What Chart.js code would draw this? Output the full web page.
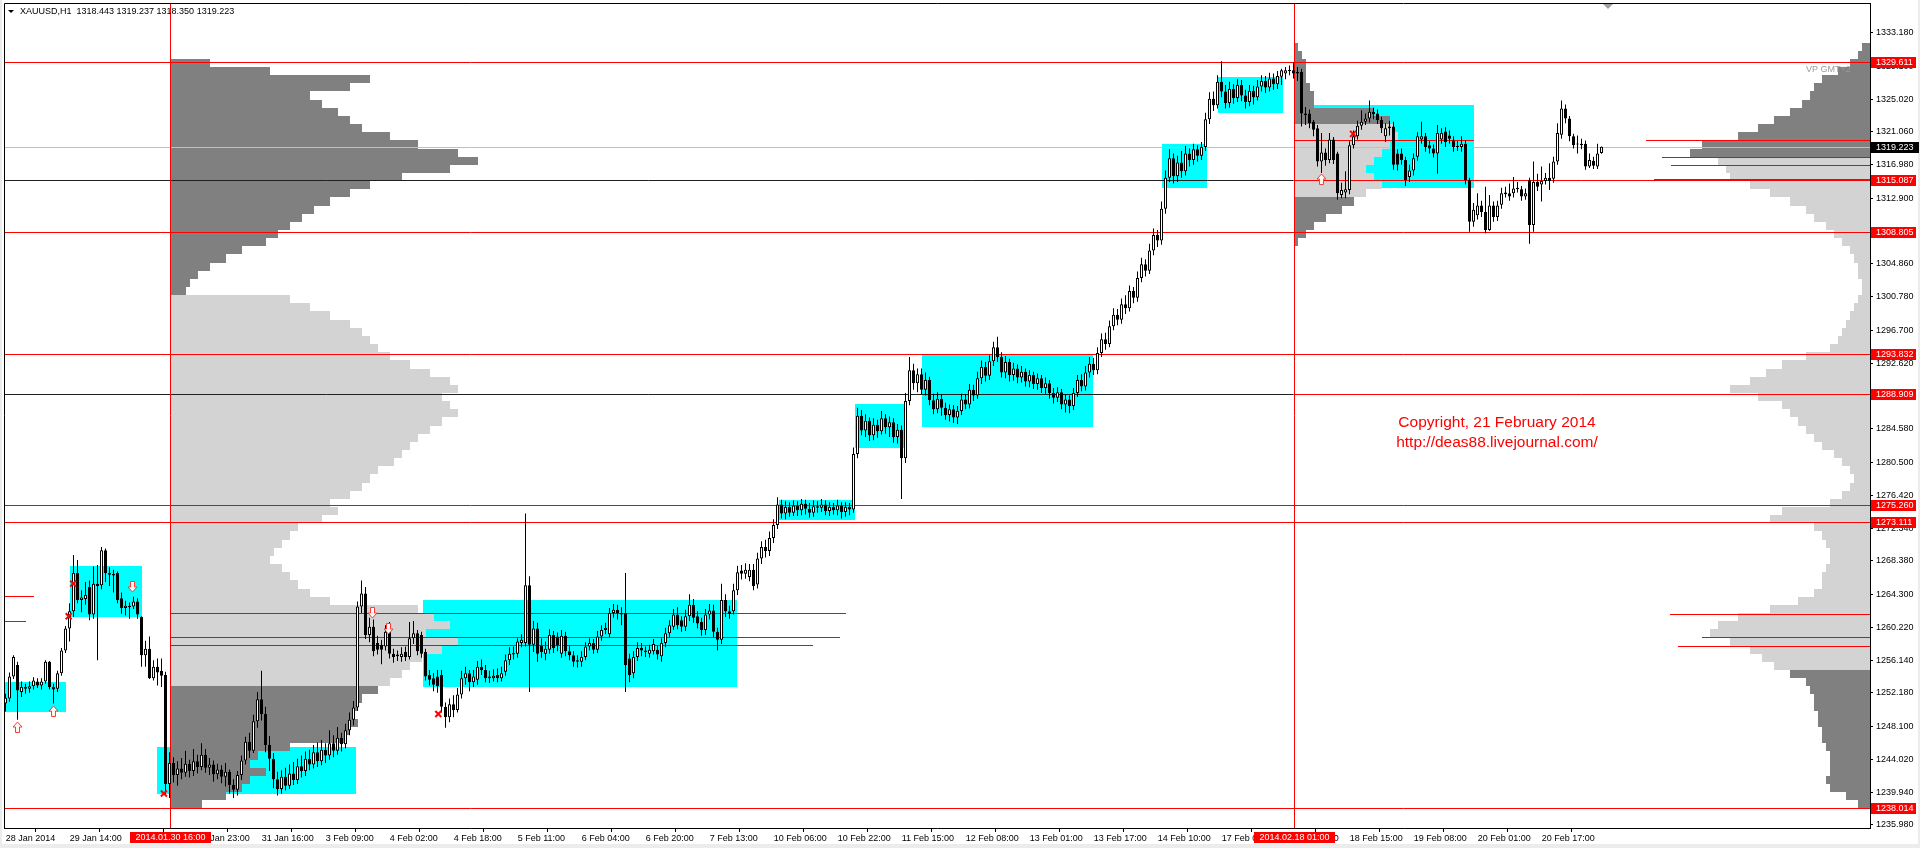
<!DOCTYPE html>
<html>
<head>
<meta charset="utf-8">
<title>XAUUSD,H1</title>
<script src="https://cdn.jsdelivr.net/npm/chart.js@4.4.1/dist/chart.umd.min.js"></script>
<style>
  html, body { margin: 0; padding: 0; background: #fff; }
  canvas { display: block; }
</style>
</head>
<body>
<canvas id="priceChart" width="1920" height="848"></canvas>
<script>
// ---- data (hourly bars, index 0 = 28 Jan 2014) ----
const symbolName = "XAUUSD,H1";

const open = [
  1250.9,1251.5,1254.2,1255.6,1252.3,1252.7,1252.7,1253.0,1253.6,1253.1,
  1253.6,1256.0,1252.9,1252.7,1254.6,1257.4,1260.1,1262.2,1266.9,1263.6,
  1263.7,1265.2,1261.8,1265.6,1265.4,1269.7,1266.9,1266.8,1266.9,1263.8,
  1262.6,1262.7,1262.8,1263.4,1261.5,1256.8,1257.6,1254.0,1255.4,1254.9,
  1254.4,1241.0,1243.6,1242.1,1242.9,1242.4,1243.5,1242.6,1243.8,1243.1,
  1244.6,1243.0,1243.4,1242.2,1242.8,1241.9,1242.5,1240.9,1240.3,1242.1,
  1243.9,1246.2,1245.1,1248.7,1251.4,1249.6,1245.8,1244.1,1241.6,1240.4,
  1241.9,1240.8,1242.3,1241.5,1243.2,1242.6,1244.1,1243.4,1244.9,1243.8,
  1245.2,1244.5,1246.0,1245.1,1246.7,1245.9,1247.6,1248.9,1250.4,1262.8,
  1264.4,1259.3,1260.3,1258.3,1258.1,1257.9,1259.7,1257.0,1256.9,1256.6,
  1257.2,1256.6,1258.9,1259.5,1259.3,1257.2,1254.4,1254.0,1254.2,1254.4,
  1250.5,1249.2,1250.8,1250.1,1252.0,1254.0,1254.6,1253.5,1253.8,1255.4,
  1255.0,1254.0,1254.0,1254.4,1254.0,1254.8,1256.2,1256.9,1257.0,1258.3,
  1258.3,1265.4,1258.1,1260.1,1258.0,1257.0,1257.5,1259.3,1259.1,1257.0,
  1259.2,1257.3,1256.8,1256.0,1256.0,1256.6,1257.9,1258.3,1257.5,1259.1,
  1259.9,1259.4,1262.0,1262.4,1262.0,1262.0,1256.4,1254.6,1256.6,1257.7,
  1257.4,1257.0,1257.3,1257.5,1256.7,1258.3,1259.5,1260.3,1261.8,1261.1,
  1260.3,1261.6,1263.0,1261.6,1260.9,1259.9,1261.8,1262.3,1259.7,1258.7,
  1263.6,1262.2,1262.2,1264.8,1267.2,1266.8,1266.4,1267.3,1265.5,1268.7,
  1270.1,1269.6,1271.2,1272.8,1275.3,1274.2,1275.0,1274.3,1275.2,1274.6,
  1275.4,1274.8,1274.3,1275.1,1274.9,1275.3,1274.5,1275.0,1274.6,1275.2,
  1274.4,1275.0,1274.7,1281.5,1286.2,1284.4,1285.6,1283.8,1285.1,1284.3,
  1285.9,1284.8,1285.4,1283.6,1284.5,1281.0,1288.0,1291.8,1290.2,1291.3,
  1289.4,1290.6,1288.1,1287.0,1288.3,1287.2,1286.3,1287.0,1286.0,1286.8,
  1288.2,1287.6,1289.4,1288.7,1290.8,1292.2,1291.1,1292.9,1294.6,1293.4,
  1291.5,1292.8,1291.2,1292.0,1290.9,1291.6,1290.4,1291.2,1290.1,1290.8,
  1289.6,1290.2,1289.0,1288.4,1289.1,1287.6,1288.2,1287.4,1289.0,1290.6,
  1289.8,1291.5,1292.6,1291.8,1293.9,1295.6,1295.0,1297.2,1298.6,1298.0,
  1299.9,1299.4,1301.5,1300.7,1303.1,1304.8,1304.0,1306.5,1308.4,1307.7,
  1311.6,1315.4,1317.8,1315.6,1317.3,1316.2,1318.4,1317.6,1318.9,1318.1,
  1319.2,1322.6,1325.1,1324.3,1327.2,1326.0,1324.6,1326.3,1325.2,1326.8,
  1325.5,1324.7,1326.1,1325.3,1326.6,1327.3,1326.5,1327.6,1326.9,1327.8,
  1328.2,1328.5,1328.6,1328.2,1328.4,1323.3,1323.3,1322.3,1321.5,1317.4,
  1318.5,1317.6,1320.1,1318.4,1313.3,1313.6,1313.9,1319.4,1320.5,1321.8,
  1322.3,1322.7,1323.5,1323.3,1322.5,1320.5,1321.5,1321.7,1318.4,1318.4,
  1317.6,1315.5,1316.3,1318.0,1320.1,1320.5,1319.4,1319.0,1318.4,1320.1,
  1321.1,1320.6,1320.0,1319.3,1319.2,1319.6,1315.1,1310.0,1310.8,1312.0,
  1311.2,1309.0,1312.0,1310.6,1312.1,1313.4,1313.5,1313.5,1314.0,1314.0,
  1313.1,1315.1,1309.6,1314.9,1314.6,1315.0,1315.4,1315.3,1317.4,1320.7,
  1323.9,1322.7,1320.5,1319.6,1319.6,1319.6,1316.8,1317.5,1316.8,1318.443
];
const high = [
  1252.1,1254.7,1256.8,1256.0,1253.6,1253.3,1253.6,1254.1,1254.0,1254.0,
  1256.2,1256.1,1253.3,1254.9,1257.7,1260.4,1263.2,1269.1,1268.5,1264.8,
  1265.8,1266.0,1267.7,1267.9,1270.1,1269.9,1267.6,1267.3,1267.1,1264.5,
  1263.5,1263.3,1264.0,1263.8,1261.6,1258.6,1259.1,1256.2,1256.4,1256.4,
  1254.8,1244.9,1244.3,1243.8,1244.2,1245.1,1244.0,1245.3,1244.6,1246.0,
  1245.3,1244.2,1243.9,1243.5,1243.3,1243.6,1242.8,1241.6,1242.6,1244.5,
  1246.8,1247.3,1249.5,1252.3,1254.9,1250.5,1246.9,1244.8,1242.5,1242.7,
  1243.0,1243.4,1243.7,1244.1,1244.5,1245.0,1245.2,1245.8,1246.1,1246.4,
  1246.0,1247.6,1247.0,1248.0,1247.3,1248.4,1249.8,1251.2,1263.4,1266.0,
  1265.2,1261.4,1261.2,1259.2,1258.7,1260.5,1260.9,1257.6,1257.4,1257.8,
  1257.9,1260.9,1261.0,1259.9,1259.7,1257.6,1255.0,1254.6,1255.0,1255.0,
  1251.0,1251.5,1251.9,1252.8,1254.9,1255.4,1255.0,1255.0,1256.1,1256.3,
  1255.6,1254.9,1255.1,1255.2,1255.4,1256.9,1257.8,1257.9,1258.9,1259.4,
  1274.2,1266.5,1261.0,1260.8,1258.9,1258.5,1260.0,1259.8,1259.6,1259.9,
  1259.7,1258.0,1257.3,1256.8,1257.3,1258.4,1258.9,1258.8,1259.8,1260.5,
  1260.8,1262.6,1263.1,1263.0,1262.7,1266.9,1257.0,1257.3,1258.4,1258.3,
  1257.9,1258.1,1258.8,1258.0,1258.9,1260.2,1261.1,1262.5,1262.7,1261.6,
  1262.4,1264.3,1263.7,1262.2,1261.4,1262.5,1263.1,1263.0,1260.2,1265.6,
  1264.3,1262.9,1265.6,1267.8,1267.9,1268.1,1268.0,1268.0,1269.4,1270.8,
  1271.0,1272.0,1273.5,1276.2,1275.9,1275.7,1275.6,1275.8,1275.7,1276.0,
  1275.9,1275.5,1275.8,1275.7,1276.0,1275.8,1275.6,1275.5,1275.9,1275.6,
  1275.6,1275.5,1282.3,1287.2,1286.9,1286.4,1286.0,1285.9,1285.7,1286.8,
  1286.4,1286.1,1285.9,1285.2,1285.0,1289.0,1293.4,1292.6,1292.0,1292.0,
  1291.5,1291.0,1288.9,1289.1,1288.8,1287.8,1287.6,1287.5,1287.4,1288.9,
  1288.8,1290.1,1290.0,1291.6,1293.0,1292.8,1293.6,1295.3,1295.9,1294.0,
  1293.5,1293.2,1292.7,1292.5,1292.3,1292.0,1291.8,1291.6,1291.4,1291.2,
  1290.9,1290.6,1289.6,1289.7,1289.5,1288.8,1288.7,1289.6,1291.2,1291.3,
  1292.3,1293.4,1293.3,1294.6,1296.3,1296.4,1297.9,1299.4,1299.3,1300.6,
  1301.0,1302.2,1302.0,1303.9,1305.6,1305.4,1307.3,1309.2,1309.0,1312.5,
  1316.3,1318.9,1318.4,1318.1,1318.7,1319.3,1319.0,1319.6,1319.4,1319.8,
  1323.4,1325.9,1326.0,1328.0,1329.7,1326.8,1327.2,1326.9,1327.5,1327.4,
  1326.2,1326.8,1326.7,1327.4,1328.0,1327.9,1328.3,1328.2,1328.5,1328.8,
  1329.0,1329.2,1329.6,1329.0,1328.8,1324.1,1323.8,1322.5,1321.9,1320.9,
  1319.0,1320.9,1320.4,1318.6,1314.8,1316.2,1319.9,1321.2,1322.4,1323.7,
  1323.3,1324.9,1324.0,1323.8,1322.9,1322.1,1322.4,1322.3,1318.9,1319.0,
  1318.0,1317.0,1318.4,1321.0,1322.3,1320.9,1319.9,1319.5,1321.9,1321.5,
  1321.6,1321.2,1320.5,1319.9,1320.5,1320.0,1315.4,1312.3,1313.5,1312.6,
  1314.3,1313.3,1312.5,1312.6,1314.2,1314.3,1314.7,1315.5,1314.9,1314.4,
  1314.1,1315.4,1317.4,1315.9,1316.8,1316.0,1317.2,1318.0,1322.1,1324.9,
  1324.4,1323.0,1320.8,1320.6,1320.2,1320.0,1318.4,1318.0,1319.6,1319.237
];
const low = [
  1249.9,1251.1,1253.9,1248.9,1251.7,1252.1,1252.2,1252.6,1252.8,1252.6,
  1253.3,1252.6,1250.9,1252.3,1254.3,1257.1,1258.5,1261.5,1263.2,1262.1,
  1263.0,1261.1,1261.3,1256.2,1264.9,1265.8,1265.3,1264.5,1263.2,1261.9,
  1261.7,1261.3,1262.5,1261.3,1255.4,1255.4,1253.9,1253.7,1253.1,1252.9,
  1239.6,1239.3,1241.2,1240.8,1241.6,1241.9,1241.8,1242.0,1242.3,1242.7,
  1242.4,1242.1,1241.3,1241.6,1241.1,1240.7,1239.8,1239.3,1239.6,1241.5,
  1243.4,1244.2,1244.8,1247.9,1248.8,1244.9,1242.6,1240.5,1239.6,1239.8,
  1240.2,1240.4,1240.9,1241.0,1241.8,1242.0,1242.7,1242.9,1243.1,1243.3,
  1243.6,1244.0,1244.3,1244.6,1245.0,1245.4,1247.0,1248.2,1250.0,1262.0,
  1258.8,1258.4,1256.7,1256.9,1255.7,1257.4,1256.4,1255.9,1256.1,1256.0,
  1256.1,1256.3,1258.2,1256.8,1256.5,1253.7,1253.1,1252.4,1252.2,1249.8,
  1247.9,1248.6,1249.2,1249.8,1251.5,1253.2,1252.4,1252.9,1253.2,1254.4,
  1253.5,1253.4,1253.6,1253.5,1253.6,1254.3,1255.6,1256.3,1256.5,1257.8,
  1257.9,1252.3,1257.2,1256.0,1256.5,1256.2,1257.0,1257.1,1257.3,1256.5,
  1256.7,1256.2,1255.4,1255.3,1255.4,1256.2,1257.4,1257.0,1257.1,1258.6,
  1259.4,1259.0,1261.4,1261.2,1260.5,1252.3,1253.5,1254.0,1256.1,1256.7,
  1256.6,1256.5,1256.9,1256.3,1256.0,1257.8,1259.0,1259.9,1260.0,1259.7,
  1259.8,1261.0,1260.8,1260.1,1259.2,1259.3,1261.2,1259.0,1257.4,1258.2,
  1261.5,1261.3,1261.8,1264.2,1266.1,1266.2,1265.9,1264.8,1265.0,1268.0,
  1268.8,1269.0,1270.6,1272.3,1273.6,1273.5,1273.8,1273.9,1273.9,1274.0,
  1274.1,1273.7,1273.8,1274.3,1274.4,1274.0,1273.9,1274.1,1274.0,1273.6,
  1273.8,1274.0,1274.3,1281.0,1283.8,1283.6,1283.1,1283.2,1283.5,1283.9,
  1284.0,1283.6,1282.9,1282.8,1276.0,1280.4,1287.5,1289.4,1289.1,1288.8,
  1288.7,1287.5,1286.4,1286.5,1286.2,1285.7,1285.5,1285.3,1285.2,1286.3,
  1287.0,1287.1,1288.0,1288.3,1290.1,1290.4,1290.6,1292.3,1292.8,1290.9,
  1290.8,1290.4,1290.5,1290.2,1290.3,1289.8,1289.7,1289.5,1289.4,1289.0,
  1288.9,1288.3,1287.7,1287.9,1287.0,1286.6,1286.5,1286.9,1288.5,1289.2,
  1289.3,1290.9,1291.2,1291.3,1293.4,1294.3,1294.6,1296.7,1297.3,1297.5,
  1298.7,1299.0,1300.0,1300.2,1302.6,1303.3,1303.6,1305.9,1306.9,1307.2,
  1311.0,1314.9,1314.7,1314.9,1315.4,1315.7,1316.8,1317.0,1317.4,1317.6,
  1318.7,1322.0,1323.6,1323.9,1325.3,1323.9,1324.0,1324.5,1324.7,1324.8,
  1323.9,1324.2,1324.4,1324.9,1326.0,1325.8,1326.0,1326.2,1326.3,1326.8,
  1327.5,1328.0,1327.6,1327.3,1321.7,1321.9,1321.5,1320.5,1316.8,1316.0,
  1316.9,1317.2,1317.1,1312.7,1312.9,1312.9,1313.4,1319.0,1320.1,1321.3,
  1321.9,1322.2,1322.6,1322.0,1320.9,1319.8,1320.6,1316.4,1316.3,1317.0,
  1314.4,1314.9,1315.7,1317.5,1319.6,1318.6,1318.4,1317.9,1315.9,1319.6,
  1319.2,1319.6,1318.6,1318.7,1318.6,1314.6,1308.8,1309.4,1310.3,1310.6,
  1308.6,1308.9,1310.0,1310.1,1311.6,1313.0,1312.6,1313.0,1313.6,1312.6,
  1312.7,1307.3,1308.8,1313.8,1312.5,1314.6,1313.9,1314.8,1317.0,1320.2,
  1322.1,1319.9,1319.0,1318.4,1318.9,1316.4,1316.6,1316.5,1316.5,1318.350
];
const close = [
  1251.6,1254.2,1256.6,1252.5,1252.9,1252.9,1253.0,1253.7,1253.1,1253.6,
  1256.0,1252.9,1252.6,1254.6,1257.4,1260.1,1262.2,1266.9,1263.6,1263.9,
  1264.2,1261.8,1265.6,1265.3,1269.7,1266.9,1266.7,1266.6,1263.6,1262.6,
  1262.9,1262.9,1263.4,1261.8,1256.8,1257.6,1254.0,1255.4,1254.7,1254.3,
  1241.0,1243.6,1242.1,1242.9,1242.4,1243.5,1242.6,1243.8,1243.1,1244.6,
  1243.0,1243.4,1242.2,1242.8,1241.9,1242.5,1240.9,1240.3,1242.1,1243.9,
  1246.2,1245.1,1248.7,1251.4,1249.6,1245.8,1244.1,1241.6,1240.4,1241.9,
  1240.8,1242.3,1241.5,1243.2,1242.6,1244.1,1243.4,1244.9,1243.8,1245.2,
  1244.5,1246.0,1245.1,1246.7,1245.9,1247.6,1248.9,1250.4,1262.8,1264.4,
  1259.3,1260.3,1257.3,1257.5,1257.5,1259.7,1257.0,1256.6,1256.7,1257.0,
  1256.6,1258.9,1259.5,1257.3,1257.0,1254.2,1253.8,1253.2,1253.0,1250.5,
  1249.2,1250.8,1250.1,1252.0,1254.0,1254.6,1253.5,1254.2,1255.4,1255.0,
  1254.0,1254.2,1254.3,1254.0,1254.6,1256.2,1257.0,1257.1,1258.5,1258.7,
  1265.4,1258.1,1260.1,1257.0,1257.2,1257.6,1259.3,1257.7,1258.0,1259.2,
  1257.3,1256.8,1256.0,1256.2,1256.6,1257.9,1258.3,1257.5,1259.1,1259.9,
  1260.2,1262.0,1262.4,1262.0,1261.8,1255.6,1254.4,1256.6,1257.7,1257.4,
  1257.2,1257.5,1258.2,1256.9,1258.3,1259.5,1260.5,1261.8,1260.5,1260.3,
  1261.6,1263.0,1261.4,1260.7,1259.9,1261.8,1262.3,1259.7,1258.7,1263.6,
  1262.2,1261.9,1264.8,1267.0,1266.8,1267.3,1267.3,1265.3,1268.7,1270.1,
  1269.6,1271.2,1272.8,1275.3,1274.2,1275.0,1274.3,1275.2,1274.6,1275.4,
  1274.8,1274.3,1275.1,1274.9,1275.3,1274.5,1275.0,1274.6,1275.2,1274.4,
  1275.0,1274.7,1281.5,1286.2,1284.4,1285.6,1283.8,1285.1,1284.3,1285.9,
  1284.8,1285.4,1283.6,1284.5,1281.0,1288.0,1291.8,1290.2,1291.3,1289.4,
  1290.6,1288.1,1287.0,1288.3,1287.2,1286.3,1287.0,1286.0,1286.8,1288.2,
  1287.6,1289.4,1288.7,1290.8,1292.2,1291.1,1292.9,1294.6,1293.4,1291.5,
  1292.8,1291.2,1292.0,1290.9,1291.6,1290.4,1291.2,1290.1,1290.8,1289.6,
  1290.2,1289.0,1288.4,1289.1,1287.6,1288.2,1287.4,1289.0,1290.6,1289.8,
  1291.5,1292.6,1291.8,1293.9,1295.6,1295.0,1297.2,1298.6,1298.0,1299.9,
  1299.4,1301.5,1300.7,1303.1,1304.8,1304.0,1306.5,1308.4,1307.7,1311.6,
  1315.4,1317.8,1315.6,1317.3,1316.2,1318.4,1317.6,1318.9,1318.1,1319.2,
  1322.6,1325.1,1324.3,1327.2,1326.0,1324.6,1326.3,1325.2,1326.8,1325.5,
  1324.7,1326.1,1325.3,1326.6,1327.3,1326.5,1327.6,1326.9,1327.9,1328.6,
  1328.6,1328.6,1328.2,1328.4,1323.3,1323.1,1322.1,1321.3,1317.4,1318.5,
  1317.6,1320.1,1317.6,1313.5,1313.9,1314.0,1319.4,1320.5,1321.8,1322.3,
  1322.7,1323.5,1323.2,1322.5,1321.5,1321.5,1321.7,1317.0,1317.0,1317.6,
  1315.1,1316.3,1317.8,1320.5,1320.5,1319.2,1319.0,1318.4,1320.9,1320.9,
  1319.8,1320.2,1319.2,1319.2,1319.6,1315.1,1310.0,1311.5,1312.0,1311.2,
  1309.0,1312.0,1310.6,1312.0,1313.5,1313.6,1313.1,1314.1,1314.2,1313.1,
  1313.5,1309.6,1314.9,1314.3,1315.0,1315.4,1315.0,1317.4,1320.9,1323.9,
  1322.7,1320.5,1319.4,1319.5,1319.4,1316.8,1317.6,1316.9,1318.4,1319.223
];

// time axis labels, one every 16 bars
const xLabels = ["28 Jan 2014","29 Jan 14:00","30 Jan 07:00","30 Jan 23:00","31 Jan 16:00",
  "3 Feb 09:00","4 Feb 02:00","4 Feb 18:00","5 Feb 11:00","6 Feb 04:00","6 Feb 20:00",
  "7 Feb 13:00","10 Feb 06:00","10 Feb 22:00","11 Feb 15:00","12 Feb 08:00","13 Feb 01:00",
  "13 Feb 17:00","14 Feb 10:00","17 Feb 03:00","17 Feb 23:00","18 Feb 15:00","19 Feb 08:00",
  "20 Feb 01:00","20 Feb 17:00"];
const labelStep = 16;

const yTicks = [1333.180,1329.100,1325.020,1321.060,1316.980,1312.900,1308.820,1304.860,
  1300.780,1296.700,1292.620,1288.540,1284.580,1280.500,1276.420,1272.340,1268.380,1264.300,
  1260.220,1256.140,1252.180,1248.100,1244.020,1239.940,1235.980];

// vertical markers (bar index) and their labels
const markerBars = [41, 322];
const markerLabels = ["2014.01.30 16:00", "2014.02.18 01:00"];

// key levels with red price labels
const keyLevels = [1329.611, 1308.805, 1293.832, 1275.260, 1273.111, 1238.014];
const splitLevels = [1315.087, 1288.909];

// short level segments: price, start bar, end bar
const segPrice = [1264.1, 1261.0, 1262.0, 1259.05, 1258.1, 1320.05, 1320.05, 1317.95, 1316.95, 1261.9, 1259.0, 1257.97];
const segStart = [-0.4, -0.4, 41, 41, 41, 322, 410, 414, 416.3, 416, 424, 418];
const segEnd   = [7, 5, 210, 208.6, 201.8, 367, 470, 470, 470, 470, 470, 470];

// balance boxes: start bar, end bar, low, high
const boxStart = [-0.2, 16.1, 37.9, 104.4, 193.3, 212.4, 229.0, 289.0, 303.0, 323.0];
const boxEnd   = [15.2, 34.1, 87.6, 182.8, 212.4, 225.4, 271.9, 300.4, 319.4, 367.0];
const boxLow   = [1249.8, 1261.5, 1239.8, 1252.9, 1273.4, 1282.2, 1284.8, 1314.2, 1323.4, 1314.1];
const boxHigh  = [1253.5, 1267.8, 1245.6, 1263.6, 1275.9, 1287.6, 1293.8, 1319.5, 1327.8, 1324.3];

// volume profiles: one value per 1.0 price level, from the top level down (in bars)
const leftProfileTop = 1330;
const leftProfile = [10,25,50,45,35,38,42,45,48,55,62,72,77,70,58,50,45,40,36,33,30,27,24,18,14,10,7,5,4,
  30,35,40,45,48,50,52,55,60,65,70,72,68,70,72,68,65,62,60,58,56,52,50,48,45,40,42,38,32,30,28,26,25,28,30,32,35,40,
  62,66,70,64,72,68,63,60,58,55,52,48,47,46,47,45,44,30,22,20,24,20,18,14,8];
const leftVA = [1252.7, 1301.1];

const smallProfileTop = 1332;
const smallProfile = [1,2,3,3,3,4,5,5,20,24,25,26,24,22,20,18,20,22,18,15,12,8,5,3,1];
const smallVA = [1313.5, 1321.9];

const rightProfileTop = 1332;
const rightProfile = [2,3,5,8,12,14,15,17,20,24,28,33,42,45,38,36,35,30,25,20,16,14,11,9,7,5,4,3,3,2,2,3,4,5,6,7,8,10,
  16,22,26,30,35,28,22,20,18,16,14,12,9,7,5,4,5,7,10,22,25,14,12,11,10,10,11,12,12,14,18,25,33,38,40,35,30,27,24,20,
  16,15,14,14,13,13,12,12,11,10,10,10,11,10,6,3];
const rightVA = [1255.1, 1318.3];

// signal marks: bar index, price
const upArrowBar = [2.9, 11.9, 328.8];
const upArrowPrice = [1248.05, 1249.97, 1315.2];
const downArrowBar = [31.6, 91.6, 95.5];
const downArrowPrice = [1265.3, 1262.1, 1260.2];
const crossBar = [16.9, 15.8, 39.6, 108.2, 336.9];
const crossPrice = [1265.6, 1261.6, 1239.85, 1249.6, 1320.8];

// ---- drawing ----
const FONT = '"Liberation Sans", Arial, sans-serif';
const RED = '#ff0000';
const last = close.length - 1;
const bars = close.map((_, i) => i);

function px(v) { return Math.round(v); }

function hline(c, x0, x1, yv, color, w) {
  c.strokeStyle = color;
  c.lineWidth = w || 1;
  const yy = w === 2 ? px(yv) : px(yv) + 0.5;
  c.beginPath(); c.moveTo(x0, yy); c.lineTo(x1, yy); c.stroke();
}

function drawProfile(c, x, y, widths, top, anchor, dir, va) {
  const x0 = px(x.getPixelForValue(anchor));
  widths.forEach((w, i) => {
    const p = top - i;
    const y0 = px(y.getPixelForValue(p)), y1 = px(y.getPixelForValue(p - 1));
    const mid = p - 0.5;
    c.fillStyle = (mid >= va[0] && mid <= va[1]) ? '#d3d3d3' : '#808080';
    const x1 = px(x.getPixelForValue(anchor + dir * w));
    c.fillRect(Math.min(x0, x1), y0, Math.abs(x1 - x0), y1 - y0);
  });
}

function arrow(c, cx, cy, up) {
  const s = up ? 1 : -1;
  c.beginPath();
  c.moveTo(cx, cy - 5.5 * s);
  c.lineTo(cx + 4.5, cy - 0.5 * s);
  c.lineTo(cx + 2, cy - 0.5 * s);
  c.lineTo(cx + 2, cy + 5 * s);
  c.lineTo(cx - 2, cy + 5 * s);
  c.lineTo(cx - 2, cy - 0.5 * s);
  c.lineTo(cx - 4.5, cy - 0.5 * s);
  c.closePath();
  c.fillStyle = '#fff8f0';
  c.fill();
  c.strokeStyle = '#ff3b3b';
  c.lineWidth = 1;
  c.stroke();
}

const overlay = {
  id: 'overlay',
  beforeDraw(chart) {
    const c = chart.ctx;
    c.save();
    c.fillStyle = '#ffffff';
    c.fillRect(0, 0, chart.width, chart.height);
    c.fillStyle = '#ececec';
    c.fillRect(0, 844, chart.width, 4);
    c.fillRect(0, 0, 2, chart.height);
    c.fillRect(1918, 0, 2, chart.height);
    c.restore();
  },
  beforeDatasetsDraw(chart) {
    const { ctx: c, chartArea: a, scales: { x, y } } = chart;
    c.save();
    c.beginPath(); c.rect(a.left, a.top, a.right - a.left, a.bottom - a.top); c.clip();

    c.fillStyle = '#00ffff';
    boxStart.forEach((s, i) => {
      const x0 = px(x.getPixelForValue(s)), x1 = px(x.getPixelForValue(boxEnd[i]));
      const y0 = px(y.getPixelForValue(boxHigh[i])), y1 = px(y.getPixelForValue(boxLow[i]));
      c.fillRect(x0, y0, x1 - x0, y1 - y0);
    });

    drawProfile(c, x, y, leftProfile, leftProfileTop, markerBars[0], 1, leftVA);
    drawProfile(c, x, y, smallProfile, smallProfileTop, markerBars[1], 1, smallVA);
    drawProfile(c, x, y, rightProfile, rightProfileTop, x.max, -1, rightVA);

    // bid line
    hline(c, a.left, a.right, y.getPixelForValue(close[last]), '#c0c0c0');
    keyLevels.forEach(p => hline(c, a.left, a.right, y.getPixelForValue(p), RED));
    splitLevels.forEach(p => {
      const xm = x.getPixelForValue(markerBars[1]);
      hline(c, a.left, xm, y.getPixelForValue(p), '#202020');
      hline(c, xm, a.right, y.getPixelForValue(p), RED);
    });
    hline(c, px(x.getPixelForValue(412)), a.right, y.getPixelForValue(splitLevels[0]), RED, 2);
    segPrice.forEach((p, i) => {
      hline(c, px(x.getPixelForValue(segStart[i])), px(x.getPixelForValue(segEnd[i])), y.getPixelForValue(p), RED);
    });

    c.strokeStyle = RED; c.lineWidth = 1;
    markerBars.forEach(b => {
      const xx = px(x.getPixelForValue(b)) + 0.5;
      c.beginPath(); c.moveTo(xx, a.top); c.lineTo(xx, a.bottom); c.stroke();
    });

    c.font = '9px ' + FONT;
    c.fillStyle = '#9a9a9a';
    c.textBaseline = 'middle';
    c.fillText('VP GMT+2', 1806, 70);
    c.restore();
  },
  afterDatasetsDraw(chart) {
    const { ctx: c, chartArea: a, scales: { x, y } } = chart;
    c.save();
    c.beginPath(); c.rect(a.left, a.top, a.right - a.left, a.bottom - a.top); c.clip();
    upArrowBar.forEach((b, i) => arrow(c, px(x.getPixelForValue(b)) + 0.5, px(y.getPixelForValue(upArrowPrice[i])) + 0.5, true));
    downArrowBar.forEach((b, i) => arrow(c, px(x.getPixelForValue(b)) + 0.5, px(y.getPixelForValue(downArrowPrice[i])) + 0.5, false));
    c.strokeStyle = RED; c.lineWidth = 2;
    crossBar.forEach((b, i) => {
      const cx = x.getPixelForValue(b), cy = y.getPixelForValue(crossPrice[i]);
      c.beginPath();
      c.moveTo(cx - 3, cy - 3); c.lineTo(cx + 3, cy + 3);
      c.moveTo(cx + 3, cy - 3); c.lineTo(cx - 3, cy + 3);
      c.stroke();
    });

    // copyright note
    c.fillStyle = RED;
    c.font = '15.5px ' + FONT;
    c.textAlign = 'center';
    c.textBaseline = 'middle';
    c.fillText('Copyright, 21 February 2014', 1497, 423);
    c.fillText('http://deas88.livejournal.com/', 1497, 443);

    // shift marker
    c.fillStyle = '#a0a0a0';
    c.beginPath(); c.moveTo(1603, 4); c.lineTo(1613, 4); c.lineTo(1608, 9); c.closePath(); c.fill();
    c.restore();

    // frame + title
    c.save();
    c.strokeStyle = '#000'; c.lineWidth = 1;
    c.beginPath();
    c.moveTo(a.left + 0.5, a.bottom); c.lineTo(a.left + 0.5, a.top + 0.5); c.lineTo(a.right, a.top + 0.5);
    c.stroke();
    c.fillStyle = '#000';
    c.beginPath(); c.moveTo(8, 10); c.lineTo(14, 10); c.lineTo(11, 13); c.closePath(); c.fill();
    c.font = '9px ' + FONT;
    c.textBaseline = 'middle';
    c.fillText(symbolName + '  ' + [open[last], high[last], low[last], close[last]].map(v => v.toFixed(3)).join(' '), 20, 12);
    c.restore();
  },
  afterDraw(chart) {
    const { ctx: c, chartArea: a, scales: { x, y } } = chart;
    c.save();
    c.font = '9px ' + FONT;
    c.textBaseline = 'middle';
    const tag = (p, bg) => {
      const yy = px(y.getPixelForValue(p));
      c.fillStyle = bg;
      c.fillRect(a.right + 1, yy - 5, bg === RED ? 45 : 48, 11);
      c.fillStyle = '#fff';
      c.textAlign = 'left';
      c.fillText(p.toFixed(3), a.right + 6, yy + 0.5);
    };
    keyLevels.concat(splitLevels).forEach(p => tag(p, RED));
    tag(close[last], '#000');

    markerBars.forEach((b, i) => {
      const cx = px(x.getPixelForValue(b));
      c.fillStyle = RED;
      c.fillRect(cx - 40, a.bottom + 4, 81, 11);
      c.fillStyle = '#fff';
      c.textAlign = 'center';
      c.fillText(markerLabels[i], cx + 0.5, a.bottom + 10);
    });
    c.restore();
  }
};

const chart = new Chart(document.getElementById('priceChart').getContext('2d'), {
  type: 'bar',
  data: {
    datasets: [
      {
        label: 'wick',
        data: bars.map(i => ({ x: i, y: [low[i], high[i]] })),
        backgroundColor: '#000',
        borderWidth: 0,
        barThickness: 1,
        inflateAmount: 0,
        grouped: false,
        order: 2
      },
      {
        label: 'body',
        data: bars.map(i => ({ x: i, y: [open[i], close[i]] })),
        backgroundColor: bars.map(i => close[i] >= open[i] ? '#ffffff' : '#000000'),
        borderColor: '#000',
        borderWidth: 1,
        borderSkipped: false,
        barThickness: 3,
        minBarLength: 1,
        inflateAmount: 0,
        grouped: false,
        order: 1
      }
    ]
  },
  options: {
    responsive: false,
    devicePixelRatio: 1,
    animation: false,
    events: [],
    layout: { padding: { left: 4, top: 3, right: 0, bottom: 0 } },
    plugins: { legend: { display: false }, tooltip: { enabled: false } },
    scales: {
      x: {
        type: 'linear',
        min: -0.375,
        max: 466.125,
        offset: false,
        afterBuildTicks: s => { s.ticks = xLabels.map((_, i) => ({ value: i * labelStep - 0.45 })); },
        afterFit: s => { s.height = 20; s.paddingLeft = 0; s.paddingRight = 0; },
        ticks: {
          autoSkip: false, maxRotation: 0, minRotation: 0, align: 'start',
          labelOffset: 2, padding: 1, color: '#000',
          font: { family: FONT, size: 9 },
          callback: (v, i) => xLabels[i]
        },
        grid: { drawOnChartArea: false, drawTicks: true, tickLength: 4, color: '#000' },
        border: { display: true, color: '#000' }
      },
      y: {
        position: 'right',
        min: 1235.61,
        max: 1336.86,
        afterBuildTicks: s => { s.ticks = yTicks.map(v => ({ value: v })); },
        afterFit: s => { s.width = 50; s.paddingTop = 0; s.paddingBottom = 0; },
        ticks: {
          autoSkip: false, padding: 3, color: '#000',
          font: { family: FONT, size: 9 },
          callback: v => v.toFixed(3)
        },
        grid: { drawOnChartArea: false, drawTicks: true, tickLength: 3, color: '#000' },
        border: { display: true, color: '#000' }
      }
    }
  },
  plugins: [overlay]
});
</script>
</body>
</html>
